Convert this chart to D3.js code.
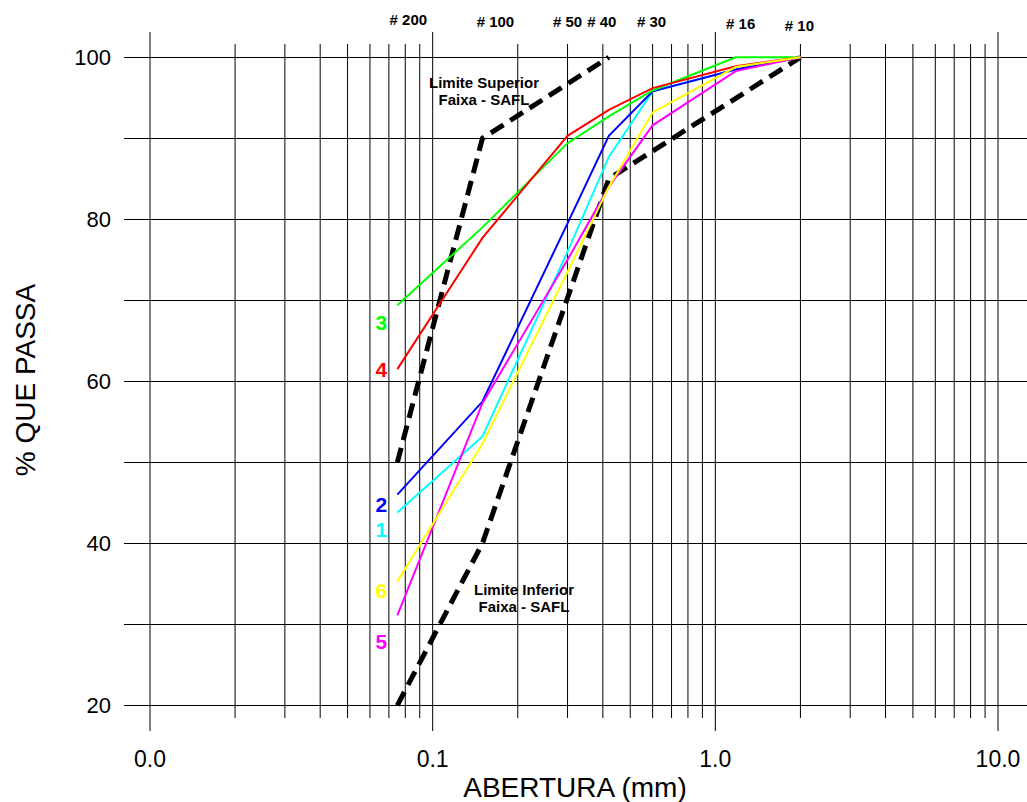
<!DOCTYPE html>
<html>
<head>
<meta charset="utf-8">
<script src="https://cdn.jsdelivr.net/npm/d3@7"></script>
<style>
  body { margin: 0; background: #fff; }
  svg { display: block; font-family: "Liberation Sans", Arial, sans-serif; }
</style>
</head>
<body>
<svg width="1027" height="802"></svg>
<script>
// sieve openings (mm) and names
const sieveSizes = [0.075, 0.15, 0.3, 0.42, 0.6, 1.18, 2.0];
const sieveNames = ["# 200", "# 100", "# 50", "# 40", "# 30", "# 16", "# 10"];

// % passing for each sample, one value per sieve
const sample1 = [43.8, 53.2, 76.0, 87.7, 95.8, 98.5, 100];
const sample2 = [46.0, 57.5, 79.5, 90.3, 95.8, 98.5, 100];
const sample3 = [69.4, 79.0, 89.4, 92.7, 95.9, 100, 100];
const sample4 = [61.5, 77.7, 90.3, 93.5, 96.2, 98.9, 100];
const sample5 = [31.1, 57.3, 75.0, 84.0, 91.6, 98.3, 100];
const sample6 = [35.3, 52.3, 73.5, 84.0, 93.2, 98.8, 100];

const sampleNames = ["1", "2", "3", "4", "5", "6"];
const sampleColors = ["#00ffff", "#0000ff", "#00ff00", "#ff0000", "#ff00ff", "#ffff00"];
const labelValues = [41.8, 44.8, 67.3, 61.5, 27.9, 34.2];

// SAFL band limits
const upperSizes = [0.075, 0.15, 0.42];
const upperValues = [50, 90, 100];
const lowerSizes = [0.075, 0.15, 0.42, 2.0];
const lowerValues = [20, 40, 85, 100];

const yTicks = [20, 40, 60, 80, 100];
const xTickValues = [0.01, 0.1, 1, 10];
const xTickLabels = ["0.0", "0.1", "1.0", "10.0"];

let svg = d3.select("svg");

let x = d3.scaleLog().domain([0.01, 10]).range([150, 998]);
let y = d3.scaleLinear().domain([20, 100]).range([705.3, 57.3]);

// horizontal grid
svg.append("g").selectAll("line")
  .data(d3.range(20, 101, 10))
  .enter().append("line")
  .attr("x1", 124).attr("x2", 1027)
  .attr("y1", d => Math.round(y(d)) + 0.5)
  .attr("y2", d => Math.round(y(d)) + 0.5)
  .attr("stroke", "#000").attr("stroke-width", 1);

// vertical grid (log ticks)
let isMajor = d => xTickValues.some(t => Math.abs(t - d) < 1e-9);
svg.append("g").selectAll("line")
  .data(x.ticks())
  .enter().append("line")
  .attr("x1", d => x(d)).attr("x2", d => x(d))
  .attr("y1", d => isMajor(d) ? 32 : 44)
  .attr("y2", d => isMajor(d) ? 731 : 718)
  .attr("stroke", "#000").attr("stroke-width", 1);

// y tick labels
svg.append("g").selectAll("text")
  .data(yTicks)
  .enter().append("text")
  .attr("x", 111)
  .attr("y", d => y(d) + 8)
  .attr("text-anchor", "end")
  .attr("font-size", "22px")
  .text(d => d);

// x tick labels
svg.append("g").selectAll("text")
  .data(xTickValues)
  .enter().append("text")
  .attr("x", d => x(d))
  .attr("y", 767)
  .attr("text-anchor", "middle")
  .attr("font-size", "23px")
  .text((d, i) => xTickLabels[i]);

// axis titles
svg.append("text")
  .attr("x", 575).attr("y", 797)
  .attr("text-anchor", "middle")
  .attr("font-size", "28px")
  .text("ABERTURA (mm)");
svg.append("text")
  .attr("transform", "translate(35,380) rotate(-90)")
  .attr("text-anchor", "middle")
  .attr("font-size", "28px")
  .text("% QUE PASSA");

// sieve names along the top
let sieveDx = [11, 13, 0, -7, -1, 5, -1];
let sieveBase = [25, 27, 27, 27, 27, 29, 31];
svg.append("g").selectAll("text")
  .data(sieveSizes)
  .enter().append("text")
  .attr("x", (d, i) => x(d) + sieveDx[i])
  .attr("y", (d, i) => sieveBase[i])
  .attr("text-anchor", "middle")
  .attr("font-size", "15px")
  .attr("font-weight", "bold")
  .text((d, i) => sieveNames[i]);

let line = d3.line().x(d => x(d[0])).y(d => y(d[1]));

// limit band, dashed
let limits = [
  d3.zip(upperSizes, upperValues),
  d3.zip(lowerSizes, lowerValues)
];
svg.append("g").selectAll("path")
  .data(limits)
  .enter().append("path")
  .attr("d", line)
  .attr("fill", "none")
  .attr("stroke", "#000")
  .attr("stroke-width", 5)
  .attr("stroke-dasharray", "15,8");

// samples
let samples = [sample1, sample2, sample3, sample4, sample5, sample6];
svg.append("g").selectAll("path")
  .data(samples)
  .enter().append("path")
  .attr("d", s => line(d3.zip(sieveSizes, s)))
  .attr("fill", "none")
  .attr("stroke", (d, i) => sampleColors[i])
  .attr("stroke-width", 2);

// sample numbers
svg.append("g").selectAll("text")
  .data(labelValues)
  .enter().append("text")
  .attr("x", x(sieveSizes[0]) - 16)
  .attr("y", d => y(d) + 8)
  .attr("text-anchor", "middle")
  .attr("font-size", "21px")
  .attr("font-weight", "bold")
  .attr("fill", (d, i) => sampleColors[i])
  .text((d, i) => sampleNames[i]);

// band annotations
function note(cx, top, lines) {
  svg.append("text")
    .attr("text-anchor", "middle")
    .attr("font-size", "15px")
    .attr("font-weight", "bold")
    .selectAll("tspan")
    .data(lines)
    .enter().append("tspan")
    .attr("x", cx)
    .attr("y", (d, i) => top + i * 17)
    .text(d => d);
}
note(484, 88, ["Limite Superior", "Faixa - SAFL"]);
note(524, 595, ["Limite Inferior", "Faixa - SAFL"]);
</script>
</body>
</html>
